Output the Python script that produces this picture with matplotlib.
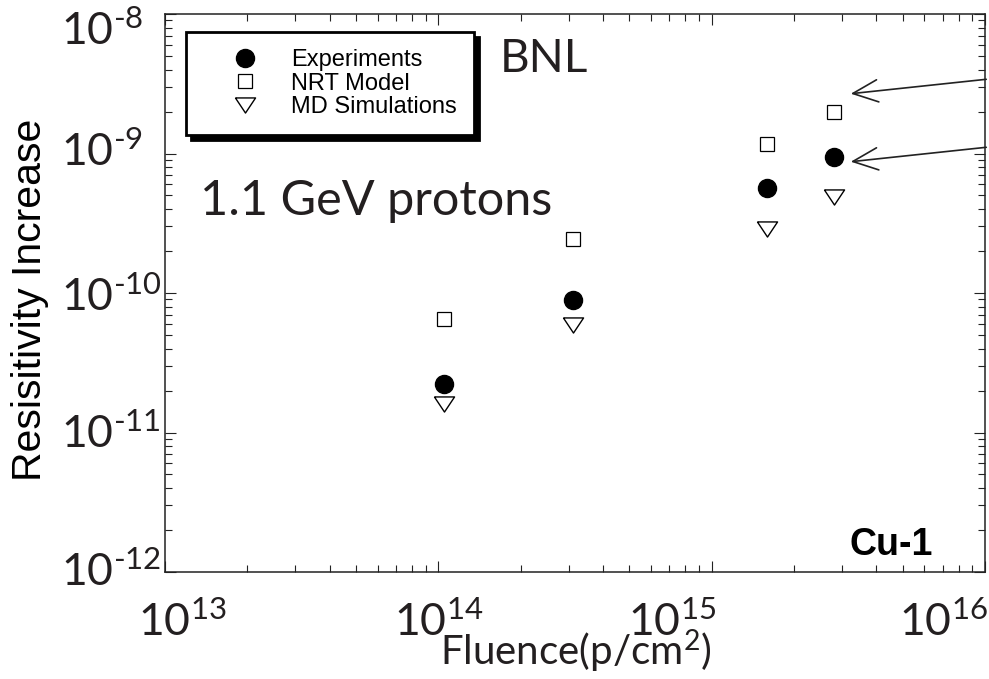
import matplotlib
matplotlib.use("Agg")
import matplotlib.pyplot as plt
import matplotlib.transforms as mtransforms
from matplotlib.patches import FancyArrowPatch
from matplotlib.ticker import LogLocator, NullFormatter

# data (fluence in p/cm^2)
fluence = [1.05e14, 3.1e14, 1.6e15, 2.8e15]
experiments = [2.23e-11, 8.9e-11, 5.66e-10, 9.44e-10]
nrt_model = [6.5e-11, 2.44e-10, 1.17e-9, 1.98e-9]
md_sims = [1.6e-11, 5.9e-11, 2.88e-10, 4.87e-10]

x_ticks = [1e13, 1e14, 1e15, 1e16]
x_labels = ['10$^{13}$', '10$^{14}$', '10$^{15}$', '10$^{16}$']
y_ticks = [1e-12, 1e-11, 1e-10, 1e-9, 1e-8]
y_labels = ['10$^{\\text{-}12}$', '10$^{\\text{-}11}$', '10$^{\\text{-}10}$',
            '10$^{\\text{-}9}$', '10$^{\\text{-}8}$']

plt.rcParams['mathtext.fontset'] = 'custom'
plt.rcParams['mathtext.rm'] = 'Lato'
plt.rcParams['mathtext.it'] = 'Lato'
plt.rcParams['mathtext.default'] = 'rm'

fig = plt.figure(figsize=(9.89, 6.79), dpi=100)
ax = fig.add_axes([165 / 989, 1 - 572 / 679, 820 / 989, 558 / 679])
ax.set_xscale('log')
ax.set_yscale('log')
ax.set_xlim(1e13, 1e16)
ax.set_ylim(1e-12, 1e-8)

tri = [(-1, 0.75), (1, 0.75), (0, -0.75), (-1, 0.75)]
ax.plot(fluence, experiments, ls='none', marker='o', ms=13, color='black',
        label='Experiments')
ax.plot(fluence, nrt_model, ls='none', marker='s', ms=9.6, mfc='white',
        mec='black', mew=0.9, label='NRT Model')
ax.plot(fluence, md_sims, ls='none', marker=tri, ms=14.5, mfc='white',
        mec='black', mew=1.0, label='MD Simulations')

for s in ax.spines.values():
    s.set_linewidth(1.1)
    s.set_color('#222222')

ax.xaxis.set_major_locator(LogLocator(base=10, numticks=10))
ax.xaxis.set_minor_locator(LogLocator(base=10, subs=range(2, 10), numticks=20))
ax.yaxis.set_major_locator(LogLocator(base=10, numticks=10))
ax.yaxis.set_minor_locator(LogLocator(base=10, subs=range(2, 10), numticks=20))
ax.tick_params(which='both', direction='in', top=True, right=True,
               labelbottom=False, labelleft=False, width=0.8, color='#222222')
ax.tick_params(which='major', length=8)
ax.tick_params(which='minor', length=5)
ax.xaxis.set_minor_formatter(NullFormatter())
ax.yaxis.set_minor_formatter(NullFormatter())

# tick labels were pasted in the original, slightly off the ticks
x_shift = [17, 0, -40, -42]
for xv, lab, dx in zip(x_ticks, x_labels, x_shift):
    tr = ax.get_xaxis_transform() + mtransforms.ScaledTranslation(dx / 100, -64 / 100, fig.dpi_scale_trans)
    ax.text(xv, 0, lab, transform=tr, ha='center', va='baseline',
            fontsize=32, family='Lato', color='#231f20')

y_shift = [-14, -15, -18, -13, -31]
for yv, lab, dy in zip(y_ticks, y_labels, y_shift):
    tr = ax.get_yaxis_transform() + mtransforms.ScaledTranslation(-104 / 100, dy / 100, fig.dpi_scale_trans)
    ax.text(0, yv, lab, transform=tr, ha='left', va='baseline',
            fontsize=32, family='Lato', color='#231f20')

fig.text(30 / 989, 1 - 300 / 679, 'Resisitivity Increase', rotation=90,
         ha='center', va='center', fontsize=29.5, family='Liberation Sans')
fig.text(576 / 989, 1 - 665 / 679, 'Fluence(p/cm$^{2}$)', ha='center',
         va='baseline', fontsize=29, family='Lato', color='#231f20')
fig.text(200 / 989, 1 - 215 / 679, '1.1 GeV protons', ha='left', va='baseline',
         fontsize=35, family='Lato', color='#231f20')
fig.text(500 / 989, 1 - 72 / 679, 'BNL', ha='left', va='baseline',
         fontsize=33, family='Lato', color='#231f20')
fig.text(891 / 989, 1 - 555 / 679, 'Cu-1', ha='center', va='baseline',
         fontsize=27, family='Liberation Sans', fontweight='bold')

leg = ax.legend(loc='upper left', bbox_to_anchor=((186 - 165) / 820, (572 - 32) / 558),
                borderaxespad=0, prop={'family': 'Liberation Sans', 'size': 17},
                frameon=True, fancybox=False, handlelength=3.5, handletextpad=0.2,
                borderpad=0.74, labelspacing=0.05,
                shadow={'ox': 3.5, 'oy': -3.5, 'color': 'black', 'alpha': 1})
leg.get_frame().set_edgecolor('black')
leg.get_frame().set_linewidth(2)
leg.get_frame().set_alpha(1)

# arrows coming in from the right edge
for (x0, y0), (x1, y1) in [((989, 79), (848, 94)), ((989, 147), (848, 162))]:
    fig.add_artist(FancyArrowPatch(
        (x0 / 989, 1 - y0 / 679), (x1 / 989, 1 - y1 / 679),
        transform=fig.transFigure, arrowstyle='->,head_length=0.9,head_width=0.4',
        mutation_scale=20, lw=1.2, color='#222222'))

fig.savefig('out.png', dpi=100)
